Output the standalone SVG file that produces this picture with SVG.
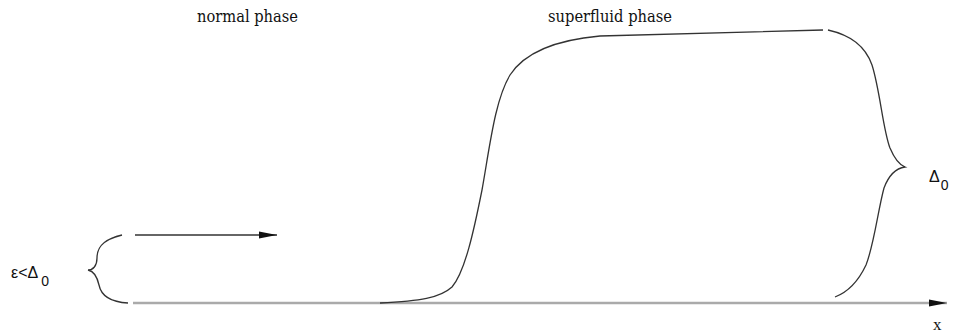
<svg xmlns="http://www.w3.org/2000/svg" width="967" height="336" viewBox="0 0 967 336">
<style>
.t{font-size:17px;fill:#111}
.s{fill:#111}
.c{fill:none;stroke:#333;stroke-width:1.3}
</style>
<defs>
<marker id="ah2" viewBox="0 0 10 10" refX="10" refY="5" markerWidth="18" markerHeight="10" markerUnits="userSpaceOnUse" orient="auto" preserveAspectRatio="none">
<path d="M0,1.5 L10,5 L0,8.5 Z" fill="#111"/>
</marker>
</defs>
<g id="labels">
<text class="t" font-family="'DejaVu Serif', 'Liberation Serif', serif" x="197" y="22" textLength="101" lengthAdjust="spacingAndGlyphs">normal phase</text>
<text class="t" font-family="'DejaVu Serif', 'Liberation Serif', serif" x="548" y="22" textLength="124" lengthAdjust="spacingAndGlyphs">superfluid phase</text>
<text class="t" font-family="'Liberation Serif', serif" x="933" y="330">x</text>
<text class="s" font-family="'Liberation Sans', Arial, sans-serif" x="11" y="278" font-size="16">ε&lt;Δ<tspan font-size="14" dx="3" dy="8">0</tspan></text>
<text class="s" font-family="'Liberation Sans', Arial, sans-serif" x="929" y="182" font-size="16">Δ<tspan font-size="14" dx="1" dy="8">0</tspan></text>
</g>
<g id="connectors">
<line x1="133" y1="303" x2="947" y2="303" stroke="#aaa" stroke-width="2.5" marker-end="url(#ah2)"/>
<line x1="135" y1="235" x2="277" y2="235" stroke="#333" stroke-width="1.5" marker-end="url(#ah2)"/>
<path class="c" d="M380,303 C420,301 440,298 452,287 C465,272 474,230 482,190 C490,145 495,100 510,75 C525,52 555,40 600,36 L823,30"/>
<path class="c" d="M122,235 C100,240 97,250 97,258 C97,266 93,270 88,270 C93,271 97,276 99,285 C101,295 110,302 128,303"/>
<path class="c" d="M828,30 C850,35 865,45 872,65 C880,90 883,130 890,148 C895,160 900,165 905,167 C898,168 890,172 884,188 C878,210 874,245 866,265 C858,282 848,292 835,297"/>
</g>
</svg>
